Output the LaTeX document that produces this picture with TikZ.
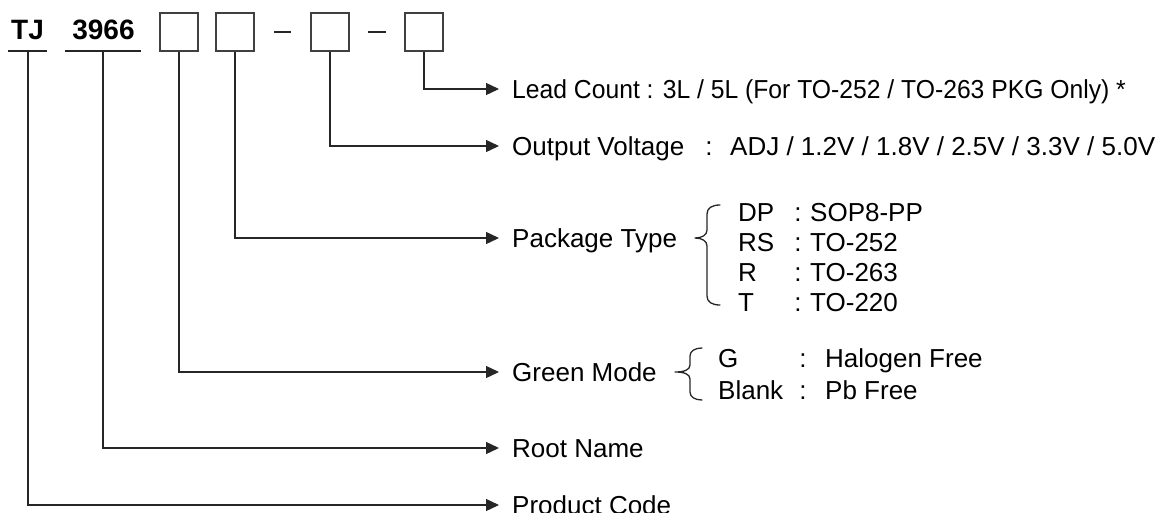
\documentclass[tikz,border=0pt]{standalone}
\usepackage{fontspec}
\usepackage{graphicx}
\setmainfont{Liberation Sans}
\usetikzlibrary{arrows.meta}
\begin{document}
\begin{tikzpicture}[x=1pt,y=-1pt,
  ln/.style={line width=1.3pt, draw=black!85},
  conn/.style={ln, -{Triangle[length=13pt,width=12pt]}},
  box/.style={draw=black!75, line width=1.3pt, minimum size=38pt, inner sep=0pt},
  lbl/.style={inner sep=0pt, anchor=west, text height=18.6pt, text depth=0pt, font=\fontsize{26}{30}\selectfont},
  colon/.style={inner sep=0pt, text height=18.6pt, text depth=0pt, font=\fontsize{26}{30}\selectfont},
  code/.style={inner sep=0pt, text height=20pt, text depth=0pt, font=\fontsize{28}{32}\selectfont\bfseries},
  brace/.style={line width=1.3pt, draw=black!85, line join=round, line cap=round}
]
\useasboundingbox (0,0) rectangle (1176,512);
\clip (0,0) rectangle (1176,512);

% part code
\node[code] (tj) at (27.5,29.5) {TJ};
\node[code] (num) at (103.5,29.5) {3966};
\draw[ln] (8,51) -- (47,51);
\draw[ln] (65,51) -- (141,51);
\coordinate (tjb) at (28,51);
\coordinate (nb) at (103,51);

\node[box] (b1) at (179,32) {};
\node[box] (b2) at (235,32) {};
\node[box] (b3) at (330,32) {};
\node[box] (b4) at (424,32) {};
\draw[ln] (274,32) -- (291,32);
\draw[ln] (368,32) -- (386,32);

% labels
\node[lbl] (lead) at (512,89) {\scalebox{0.95}[1]{Lead Count : 3L / 5L (For TO-252 / TO-263 PKG Only) *}};
\node[lbl] (outv) at (512,146) {Output Voltage};
\node[colon] (outc) at (709,146) {:};
\node[lbl] (outval) at (730,146) {ADJ / 1.2V / 1.8V / 2.5V / 3.3V / 5.0V};
\node[lbl] (pkg) at (512,238) {Package Type};
\node[lbl] (green) at (512,372) {Green Mode};
\node[lbl] (root) at (512,448) {Root Name};
\node[lbl] (prod) at (512,505) {Product Code};

% connectors
\draw[conn] (b4.south) |- ([xshift=-13pt]lead.west);
\draw[conn] (b3.south) |- ([xshift=-13pt]outv.west);
\draw[conn] (b2.south) |- ([xshift=-13pt]pkg.west);
\draw[conn] (b1.south) |- ([xshift=-13pt]green.west);
\draw[conn] (nb) |- ([xshift=-13pt]root.west);
\draw[conn] (tjb) |- ([xshift=-13pt]prod.west);

% package brace
\draw[brace] (720,205) .. controls (712,205) and (707,208) .. (707,214) -- (707,230)
  .. controls (707,235) and (702,238) .. (695,238)
  .. controls (702,238) and (707,241) .. (707,246) -- (707,296)
  .. controls (707,302) and (712,305) .. (720,305);
\node[lbl] (p1) at (738,212) {DP};
\node[colon] (p1c) at (798,212) {:};
\node[lbl] (p1v) at (810,212) {SOP8-PP};
\node[lbl] (p2) at (738,242) {RS};
\node[colon] (p2c) at (798,242) {:};
\node[lbl] (p2v) at (810,242) {TO-252};
\node[lbl] (p3) at (738,272) {R};
\node[colon] (p3c) at (798,272) {:};
\node[lbl] (p3v) at (810,272) {TO-263};
\node[lbl] (p4) at (738,302) {T};
\node[colon] (p4c) at (798,302) {:};
\node[lbl] (p4v) at (810,302) {TO-220};

% green brace
\draw[brace] (702,348) .. controls (695,348) and (690,351) .. (690,356) -- (690,365)
  .. controls (690,370) and (684,372) .. (675,372)
  .. controls (684,372) and (690,374) .. (690,379) -- (690,392)
  .. controls (690,397) and (695,400) .. (702,400);
\node[lbl] (g1) at (718,358) {G};
\node[colon] (g1c) at (803,358) {:};
\node[lbl] (g1v) at (825,358) {Halogen Free};
\node[lbl] (g2) at (718,390) {Blank};
\node[colon] (g2c) at (803,390) {:};
\node[lbl] (g2v) at (825,390) {Pb Free};
\end{tikzpicture}
\end{document}
